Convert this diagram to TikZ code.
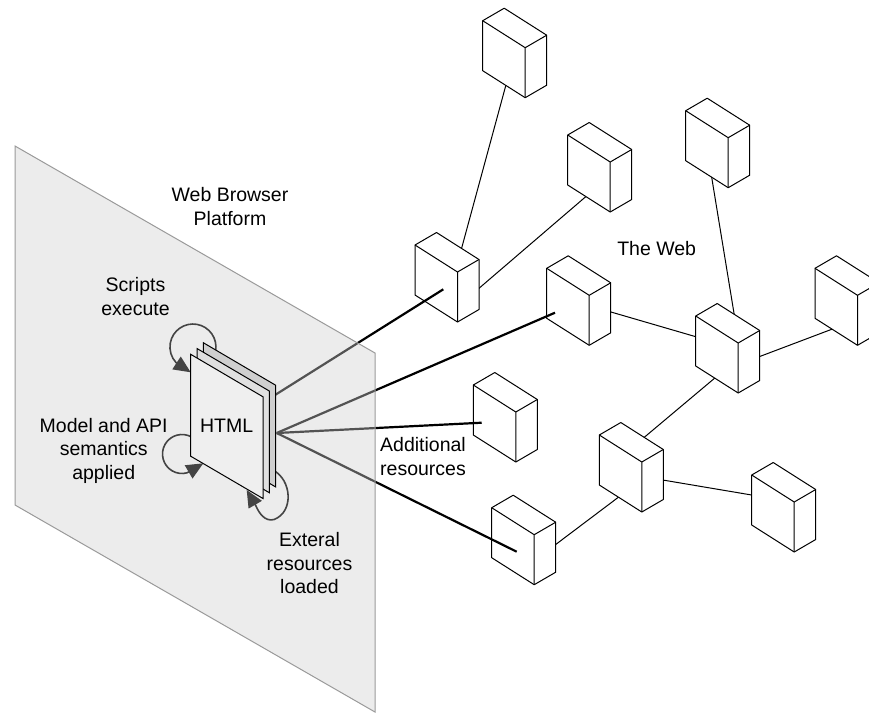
\documentclass[tikz,border=0pt]{standalone}
\usepackage{fontspec}
\setmainfont{Liberation Sans}
\usetikzlibrary{calc,arrows.meta}

\definecolor{panelgray}{gray}{0.815}
\definecolor{edgegray}{HTML}{9A9A9A}
\definecolor{loopgray}{HTML}{444444}
\definecolor{pageA}{HTML}{EFEFEF}
\definecolor{pageB}{HTML}{E0E0E0}
\definecolor{pageC}{HTML}{CFCFCF}

\begin{document}
\begin{tikzpicture}[x=1pt,y=-1pt,
  boxline/.style={line width=1pt, line join=round},
  link/.style={line width=1pt},
  feed/.style={line width=2.2pt},
  cycleloop/.style={draw=loopgray, line width=1.6pt, -{Triangle[length=17pt,width=15pt]}},
  lbl/.style={font=\fontsize{19.5}{23.5}\selectfont, align=center, inner sep=0pt},
  sheet/.style={draw=black, line width=1pt},
  % a server box drawn around its centre
  server/.pic={
    \begin{scope}[shift={(-32,-32)}]
    \draw[boxline, fill=white] (0,0) -- (21.5,-12.5) -- (64,14.5) -- (64,64.5)
          -- (42.5,77) -- (0,50) -- cycle;
    \draw[boxline] (0,0) -- (42.5,27) -- (64,14.5) (42.5,27) -- (42.5,77);
    \end{scope}
  }
]
\useasboundingbox (0,0) rectangle (869,713);
\clip (0,0) rectangle (869,713);

% --- server centres ---
\coordinate (b1)  at (514.7,52.7);
\coordinate (b2)  at (447,277);
\coordinate (b3)  at (599.7,167);
\coordinate (b4)  at (717.7,142.7);
\coordinate (b5)  at (578.7,300.3);
\coordinate (b6)  at (847,300.3);
\coordinate (b7)  at (727.7,348);
\coordinate (b8)  at (505.3,417);
\coordinate (b9)  at (631.3,467);
\coordinate (b10) at (523.7,539.7);
\coordinate (b11) at (783.7,507);

% --- links between servers (hidden behind the boxes at their ends) ---
\draw[link] (b1) -- ($(b2)+(8.7,-7)$);
\draw[link] ($(b3)+(0,17.7)$) -- ($(b2)+(13,27.6)$);
\draw[link] ($(b4)+(-11.7,0)$) -- ($(b7)+(12,0)$);
\draw[link] ($(b5)+(0,2.3)$) -- ($(b7)+(0,-2)$);
\draw[link] ($(b7)+(0,20.6)$) -- ($(b6)+(0,23.2)$);
\draw[link] ($(b7)+(0,19.2)$) -- ($(b9)+(0,-18.8)$);
\draw[link] ($(b9)+(0,20.5)$) -- ($(b10)+(0,28.9)$);
\draw[link] ($(b9)+(0,7.7)$) -- ($(b11)+(0,-6.6)$);

% --- the servers ---
\foreach \b in {b1,b2,b3,b4,b5,b6,b7,b8,b9,b10,b11}{
  \pic at (\b) {server};
}

% --- requests from the document out to the web ---
\coordinate (hA) at (275,395);
\coordinate (hB) at (276.7,433);
\draw[feed] (hA) -- ($(b2)+(-3.7,12.3)$);
\draw[feed] (hB) -- ($(b5)+(-23.7,12.4)$);
\draw[feed] (hB) -- ($(b8)+(-23.6,5.7)$);
\draw[feed] (hB) -- ($(b10)+(-7,12)$);

% --- browser platform plane ---
\fill[panelgray, opacity=0.4] (15,146) -- (375,353) -- (375,712) -- (15,505) -- cycle;
\draw[edgegray, line width=1pt] (15,146) -- (375,353) -- (375,712) -- (15,505) -- cycle;

% --- processing loops ---
\draw[cycleloop] (215.6,351) arc[start angle=10, end angle=-223, radius=23] -- (190.7,372.3);
\draw[cycleloop] (191.75,437.1) arc[start angle=-60, end angle=-285, radius=19.5] -- (203.3,463.3);
\draw[cycleloop] (273,470) .. controls (292,480) and (294,512) .. (274,519.5)
      .. controls (265,522) and (259,513) .. (256,506) -- (246.7,490);

% --- stacked HTML pages ---
\foreach \s/\col in {2/pageC,1/pageB,0/pageA}{
  \draw[sheet, fill=\col, shift={(\s*6.3,-\s*5.8)}]
    (190.7,354.3) -- (263,396.8) -- (263,498.5) -- (190.7,456.2) -- cycle;
}

% --- labels (anchored on the baseline of their last line) ---
\node[lbl, anchor=base] (html) at (226.7,432.7) {HTML};
\node[lbl, anchor=base] (wbp) at (230,225) {Web Browser\\Platform};
\node[lbl, anchor=base] (web) at (656.7,255) {The Web};
\node[lbl, anchor=base] (scr) at (135.5,315) {Scripts\\execute};
\node[lbl, anchor=base] (sem) at (103.7,479) {Model and API\\semantics\\applied};
\node[lbl, anchor=base] (add) at (423,475) {Additional\\resources};
\node[lbl, anchor=base] (ext) at (309.5,593.5) {Exteral\\resources\\loaded};
\end{tikzpicture}
\end{document}
